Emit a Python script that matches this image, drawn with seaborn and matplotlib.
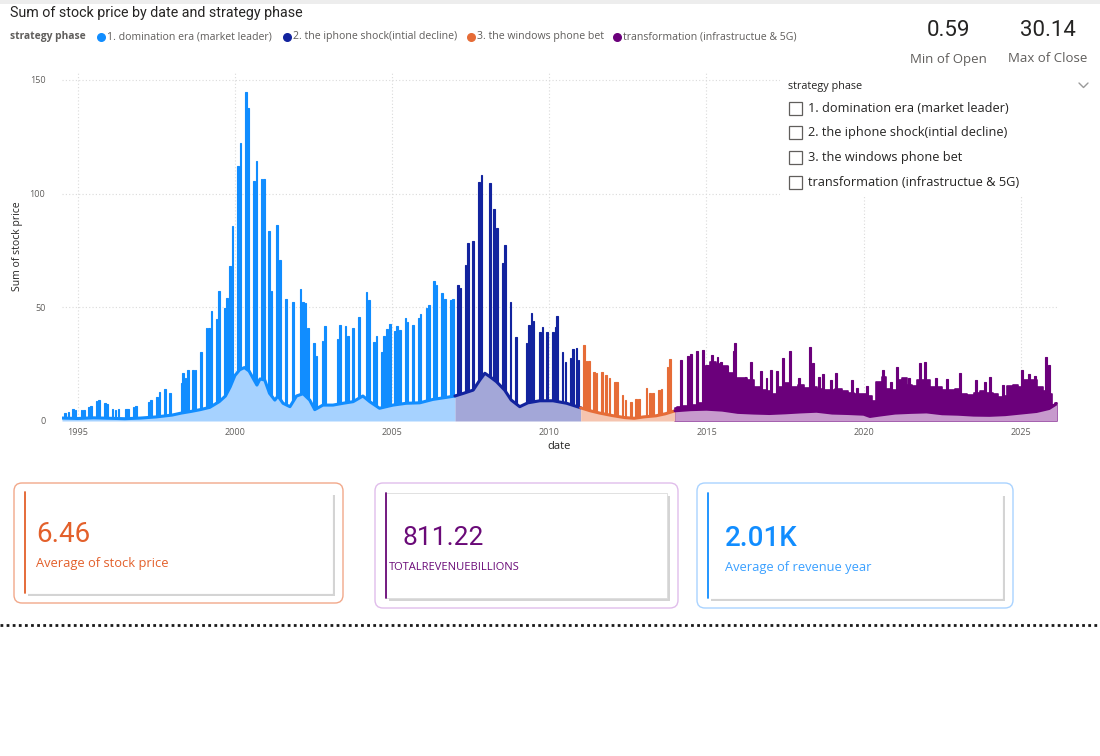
import numpy as np
import pandas as pd
import matplotlib
matplotlib.use("Agg")
import matplotlib.pyplot as plt
from matplotlib.patches import Rectangle, FancyBboxPatch
import seaborn as sns

# ---- data ----
phases = ["1. domination era (market leader)", "2. the iphone shock(intial decline)",
          "3. the windows phone bet", "transformation (infrastructue & 5G)"]
line_colors = ["#118DFF", "#12239E", "#E66C37", "#6B007B"]
fill_colors = ["#A6D2FF", "#A3A7D8", "#F5C4AF", "#C79ACD"]

# base (daily) line, per phase
blue_years = [1994.5, 1995.0, 1995.5, 1996.0, 1996.5, 1997.0, 1997.5, 1998.0, 1998.3, 1998.6,
              1998.9, 1999.2, 1999.5, 1999.7, 1999.85, 2000.0, 2000.15, 2000.3, 2000.45, 2000.55,
              2000.7, 2000.8, 2000.95, 2001.1, 2001.27, 2001.37, 2001.53, 2001.75, 2001.96, 2002.17,
              2002.38, 2002.54, 2002.8, 2003.12, 2003.44, 2003.76, 2004.07, 2004.29, 2004.6, 2005.03,
              2005.45, 2005.88, 2006.3, 2006.73, 2007.0]
blue_vals = [1.3, 1.1, 1.4, 1.2, 1.0, 1.3, 1.8, 2.6, 3.5, 4.2,
             5.0, 6.0, 8.5, 11.0, 15.0, 20.0, 22.5, 23.5, 22.0, 19.5,
             15.8, 18.5, 18.0, 12.2, 9.2, 11.0, 7.8, 6.3, 11.0, 12.0,
             9.2, 5.0, 7.0, 7.0, 7.8, 8.5, 11.0, 8.5, 5.6, 7.0,
             7.8, 8.0, 9.5, 10.4, 11.0]
navy_years = [2007.0, 2007.3, 2007.58, 2007.79, 2007.95, 2008.11, 2008.32, 2008.58, 2008.79, 2009.06,
              2009.32, 2009.7, 2010.12, 2010.55, 2011.0]
navy_vals = [11.0, 12.3, 13.6, 18.0, 21.0, 19.5, 17.3, 13.6, 9.2, 6.3,
             8.0, 8.9, 8.9, 7.8, 5.8]
orange_years = [2011.0, 2011.3, 2011.6, 2012.0, 2012.4, 2012.7, 2013.0, 2013.4, 2013.7, 2014.0]
orange_vals = [5.8, 4.5, 3.5, 2.4, 1.5, 1.2, 1.8, 2.3, 3.2, 4.5]
purple_years = [2014.0, 2014.5, 2015.0, 2015.5, 2016.0, 2016.5, 2017.0, 2017.5, 2018.0, 2018.5,
                2019.0, 2019.5, 2020.0, 2020.2, 2020.5, 2021.0, 2021.5, 2022.0, 2022.5, 2023.0,
                2023.5, 2024.0, 2024.5, 2025.0, 2025.5, 2025.9, 2026.15]
purple_vals = [4.5, 5.0, 5.2, 4.8, 3.8, 3.5, 3.3, 3.6, 4.0, 4.3,
               3.5, 3.3, 3.0, 2.0, 2.6, 3.5, 3.8, 4.0, 3.2, 3.0,
               2.6, 2.5, 2.8, 3.5, 4.2, 5.5, 7.7]
# top of the dense purple band (many overlapping daily spikes)
purple_band_years = [2014.0, 2014.15, 2014.35, 2014.6, 2014.9, 2015.0, 2015.2, 2015.4, 2015.6, 2015.75,
                     2015.95, 2016.2, 2016.4, 2016.6, 2016.8, 2017.0, 2017.2, 2017.4, 2017.6, 2017.8,
                     2018.0, 2018.2, 2018.4, 2018.6, 2018.8, 2019.0, 2019.2, 2019.4, 2019.6, 2019.8,
                     2020.0, 2020.2, 2020.3, 2020.5, 2020.65, 2020.8, 2021.0, 2021.15, 2021.3, 2021.45,
                     2021.6, 2021.8, 2022.0, 2022.2, 2022.4, 2022.6, 2022.8, 2023.0, 2023.2, 2023.4,
                     2023.6, 2023.8, 2024.0, 2024.2, 2024.35, 2024.5, 2024.65, 2024.85, 2025.0, 2025.2,
                     2025.4, 2025.6, 2025.8, 2025.95, 2026.03, 2026.15]
purple_band_vals = [5.5, 6.0, 6.5, 7.0, 8.0, 24.0, 26.0, 25.0, 24.0, 21.0,
                    19.0, 19.0, 18.0, 15.0, 13.5, 13.0, 12.0, 15.0, 16.5, 15.0,
                    16.0, 14.5, 15.0, 14.0, 13.5, 13.5, 14.0, 13.0, 12.5, 12.0,
                    12.0, 11.0, 9.0, 17.0, 19.5, 14.0, 13.5, 18.0, 19.0, 16.0,
                    15.5, 18.0, 18.0, 15.0, 15.0, 13.5, 13.5, 14.0, 12.0, 11.5,
                    12.5, 13.0, 12.5, 12.0, 10.5, 11.0, 15.5, 16.0, 15.0, 18.0,
                    18.0, 15.0, 13.0, 12.0, 7.0, 8.0]

# spikes (duplicated dates in the sum)
blue_spike_years = [1994.59, 1994.70, 1994.85, 1994.93, 1995.12, 1995.2, 1995.36, 1995.43, 1995.6, 1995.68,
                    1995.86, 1995.94, 1996.1, 1996.2, 1996.3, 1996.53, 1996.6, 1996.78, 1996.86, 1997.27,
                    1997.34, 1997.52, 1997.6, 1997.77, 1997.93, 1998.3, 1998.35, 1998.43, 1998.51, 1998.67,
                    1998.75, 1998.93, 1999.09, 1999.18, 1999.25, 1999.41, 1999.5, 1999.68, 1999.75, 1999.84,
                    1999.92, 2000.1, 2000.18, 2000.35, 2000.42, 2000.6, 2000.69, 2000.84, 2000.92, 2001.09,
                    2001.16, 2001.34, 2001.43, 2001.62, 2001.85, 2002.09, 2002.17, 2002.25, 2002.33, 2002.51,
                    2002.59, 2002.78, 2002.86, 2003.26, 2003.35, 2003.52, 2003.6, 2003.76, 2003.94, 2004.18,
                    2004.26, 2004.43, 2004.5, 2004.68, 2004.75, 2004.84, 2004.93, 2005.09, 2005.16, 2005.25,
                    2005.43, 2005.49, 2005.67, 2005.85, 2005.91, 2006.09, 2006.18, 2006.34, 2006.41, 2006.59,
                    2006.68, 2006.87, 2006.94]
blue_spike_vals = [3.7, 4.0, 5.1, 5.0, 5.0, 5.0, 6.3, 6.7, 8.9, 9.2,
                   7.8, 7.5, 5.3, 5.0, 5.2, 5.2, 5.1, 6.3, 6.6, 8.5,
                   9.2, 10.7, 12.9, 14.0, 12.2, 16.6, 21.0, 18.9, 22.4, 22.4,
                   22.4, 30.5, 41.0, 40.8, 48.4, 44.7, 57.3, 49.9, 54.0, 68.3,
                   85.9, 112.2, 122.4, 144.6, 137.5, 105.6, 114.5, 106.3, 106.3, 83.6,
                   57.2, 86.0, 70.8, 53.7, 52.2, 57.9, 52.5, 51.7, 40.8, 34.2,
                   28.6, 35.3, 41.9, 36.0, 42.2, 41.9, 37.4, 40.8, 45.9, 56.6,
                   53.2, 34.9, 37.5, 30.2, 37.4, 40.4, 42.5, 39.7, 41.8, 40.0,
                   45.5, 43.7, 42.2, 45.5, 47.1, 49.6, 51.1, 61.7, 60.0, 56.3,
                   53.8, 53.0, 53.8]
navy_spike_years = [2007.1, 2007.18, 2007.34, 2007.42, 2007.58, 2007.77, 2007.84, 2008.11, 2008.25, 2008.33,
                    2008.53, 2008.6, 2008.76, 2008.95, 2009.27, 2009.35, 2009.43, 2009.5, 2009.7, 2009.78,
                    2009.93, 2010.12, 2010.2, 2010.24, 2010.42, 2010.52, 2010.67, 2010.76, 2010.86, 2010.93]
navy_spike_vals = [59.8, 58.3, 68.6, 78.5, 79.2, 105.3, 108.2, 104.8, 93.1, 84.8,
                   69.4, 77.4, 52.5, 37.1, 34.2, 42.3, 47.4, 43.8, 39.3, 41.4,
                   39.3, 39.3, 41.4, 46.2, 30.5, 26.1, 27.6, 31.5, 32.0, 26.8]
orange_spike_years = [2011.1, 2011.18, 2011.26, 2011.42, 2011.5, 2011.68, 2011.81, 2011.92, 2012.09, 2012.16,
                      2012.33, 2012.43, 2012.6, 2012.76, 2012.85, 2013.09, 2013.2, 2013.3, 2013.49, 2013.57,
                      2013.76, 2013.84]
orange_spike_vals = [33.4, 26.4, 26.4, 21.7, 21.0, 21.7, 20.2, 18.8, 17.3, 17.3,
                     11.4, 9.2, 8.5, 9.5, 9.7, 14.4, 12.5, 12.2, 13.6, 13.9,
                     23.9, 27.1]
purple_spike_years = [2014.2, 2014.42, 2014.52, 2014.7, 2014.89, 2015.03, 2015.17, 2015.35, 2015.46, 2015.66,
                      2015.86, 2015.92, 2016.24, 2016.42, 2016.73, 2016.91, 2017.04, 2017.25, 2017.44,
                      2017.65, 2017.93, 2018.3, 2018.4, 2018.58, 2018.72, 2018.96, 2019.11, 2019.62,
                      2019.78, 2020.1, 2020.62, 2020.86, 2021.07, 2021.45, 2021.8, 2021.95, 2022.3, 2022.66,
                      2023.06, 2023.58, 2023.85, 2024.02, 2024.44, 2025.03, 2025.25, 2025.45, 2025.81, 2025.9]
purple_spike_vals = [27.0, 28.5, 29.5, 30.8, 31.2, 24.6, 29.0, 28.0, 26.0, 24.0,
                     31.0, 34.5, 19.4, 26.0, 22.0, 19.0, 22.3, 22.0, 27.6,
                     31.0, 19.0, 32.6, 25.6, 19.4, 20.8, 18.0, 21.0, 18.0,
                     14.5, 15.3, 22.4, 17.0, 23.6, 19.0, 25.4, 26.0, 19.0, 18.5,
                     21.0, 18.0, 17.0, 19.4, 16.0, 22.4, 20.5, 20.0, 28.3, 24.6]

year_ticks = [1995, 2000, 2005, 2010, 2015, 2020, 2025]
price_ticks = [0, 50, 100, 150]

# ---- figure ----
sns.set_theme(style="white")
plt.rcParams["font.family"] = ["Open Sans", "DejaVu Sans"]

W, H = 1100, 756
fig = plt.figure(figsize=(W / 100, H / 100), dpi=100)
fig.patch.set_facecolor("white")

ax = fig.add_axes([62 / W, 1 - 421 / H, (1057 - 62) / W, (421 - 72) / H])
ax.set_facecolor("white")

base_sets = [(blue_years, blue_vals), (navy_years, navy_vals),
             (orange_years, orange_vals), (purple_years, purple_vals)]
spike_sets = [(blue_spike_years, blue_spike_vals), (navy_spike_years, navy_spike_vals),
              (orange_spike_years, orange_spike_vals), (purple_spike_years, purple_spike_vals)]

# spikes first, then opaque light fill hides them below the base line
for i, (sx, sy) in enumerate(spike_sets):
    w = 0.05 if i < 3 else 0.06
    ax.bar(sx, sy, width=w, color=line_colors[i], edgecolor=line_colors[i], linewidth=0.8, zorder=2)

ax.fill_between(purple_band_years, 0, purple_band_vals, step="mid", color=line_colors[3],
                edgecolor=line_colors[3], linewidth=1.2, zorder=2)

for i, (bx, by) in enumerate(base_sets):
    ax.fill_between(bx, 0, by, color=fill_colors[i], linewidth=0, zorder=3)

base_df = pd.concat([pd.DataFrame({"year": bx, "price": by, "phase": phases[i]})
                     for i, (bx, by) in enumerate(base_sets)], ignore_index=True)
sns.lineplot(data=base_df, x="year", y="price", hue="phase", palette=line_colors,
             estimator=None, sort=False, linewidth=2.2, legend=False, ax=ax, zorder=4)

ax.set_xlim(1994.5, 2026.15)
ax.set_ylim(0, 153.5)
ax.set_xticks(year_ticks)
ax.set_yticks(price_ticks)
ax.grid(True, linestyle=(0, (1, 2)), color="#DADADA", linewidth=0.8, zorder=0)
for s in ax.spines.values():
    s.set_visible(False)
ax.tick_params(axis="both", length=0, labelsize=6.5, colors="#605E5C")
ax.tick_params(axis="y", pad=12)
ax.tick_params(axis="x", pad=5)
ax.set_xlabel("date", fontsize=8, color="#252423", labelpad=3)
ax.set_ylabel("Sum of stock price", fontsize=7.5, color="#252423", labelpad=5)

# ---- overlay in pixel coords ----
ov = fig.add_axes([0, 0, 1, 1], zorder=5)
ov.set_xlim(0, W)
ov.set_ylim(H, 0)
ov.axis("off")
ov.patch.set_alpha(0)

ov.add_patch(Rectangle((0, 0), W, 4, color="#EDEDED", lw=0))

ov.text(10, 13, "Sum of stock price by date and strategy phase", fontsize=10.3,
        color="#252423", va="center", ha="left", family=["Roboto", "DejaVu Sans"])
ov.text(10, 37, "strategy phase", fontsize=7.4, fontweight="bold", color="#605E5C", va="center")
leg_x = [101, 287, 471, 617]
for i, name in enumerate(phases):
    ov.scatter(leg_x[i], 37, s=30, color=line_colors[i], zorder=6)
    ov.text(leg_x[i] + 6, 37, name, fontsize=7.6, color="#605E5C", va="center")

# KPI numbers
kpi_vals = ["0.59", "30.14"]
kpi_labels = ["Min of Open", "Max of Close"]
kpi_x = [948, 1048]
for v, l, x in zip(kpi_vals, kpi_labels, kpi_x):
    ov.text(x, 31, v, fontsize=16, color="#252423", ha="center", va="center",
            family=["Roboto", "DejaVu Sans"])
    ov.text(x, 59, l, fontsize=9.5, color="#605E5C", ha="center", va="center")

# slicer
ov.add_patch(Rectangle((780, 72), 318, 124, color="white", lw=0))
ov.text(788, 87, "strategy phase", fontsize=7.8, color="#252423", va="center")
ov.plot([1079, 1083.5, 1088], [83, 87.5, 83], color="#9A9A9A", lw=1)
for i, name in enumerate(phases):
    y = 108 + i * 24.7
    ov.add_patch(Rectangle((789, y - 6.5), 13, 13, fill=False, edgecolor="#605E5C", lw=0.9))
    ov.text(808, y, name, fontsize=9.2, color="#252423", va="center")

# cards
card_vals = ["6.46", "811.22", "2.01K"]
card_labels = ["Average of stock price", "TOTALREVENUEBILLIONS", "Average of revenue year"]
card_colors = ["#E3602B", "#6A0A78", "#118DFF"]
card_label_colors = ["#E3602B", "#6A0A78", "#3AA0FF"]
outer_colors = ["#F2A88A", "#E0BDEB", "#A9D3FF"]
outer_boxes = [(14, 483, 329, 120), (375, 483, 303, 125), (697, 483, 316, 125)]
inner_boxes = [(25, 492, 307, 101), (386, 493, 281, 105), (708, 493, 294, 105)]
value_x = [36, 403, 725]
label_x = [36, 389, 725]
value_y = [535, 538, 538]
label_y = [564, 567, 567]
value_sizes = [20, 19, 20]
label_sizes = [9.3, 8, 9.3]
for i in range(3):
    x0, y0, w, h = outer_boxes[i]
    ov.add_patch(FancyBboxPatch((x0, y0), w, h, boxstyle="round,pad=0,rounding_size=8",
                                fill=False, edgecolor=outer_colors[i], lw=1))
    x1, y1, w1, h1 = inner_boxes[i]
    ov.add_patch(Rectangle((x1 + 3, y1 + 3), w1, h1, color="#D4D4D4", lw=0))
    ov.add_patch(Rectangle((x1, y1), w1, h1, facecolor="white",
                           edgecolor="#DCDCDC" if i == 1 else "white", lw=0.6))
    ov.plot([x1, x1], [y1, y1 + h1], color=card_colors[i], lw=1.3)
    ov.text(value_x[i], value_y[i], card_vals[i], fontsize=value_sizes[i],
            color=card_colors[i], va="center", family=["Roboto", "DejaVu Sans"],
            fontweight="medium" if i == 2 else "normal")
    ov.text(label_x[i], label_y[i], card_labels[i], fontsize=label_sizes[i],
            color=card_label_colors[i], va="center")

ov.axhline(625, color="#1A1A1A", lw=2, linestyle=(0, (1, 1.2)))

fig.savefig("out.png", dpi=100)
